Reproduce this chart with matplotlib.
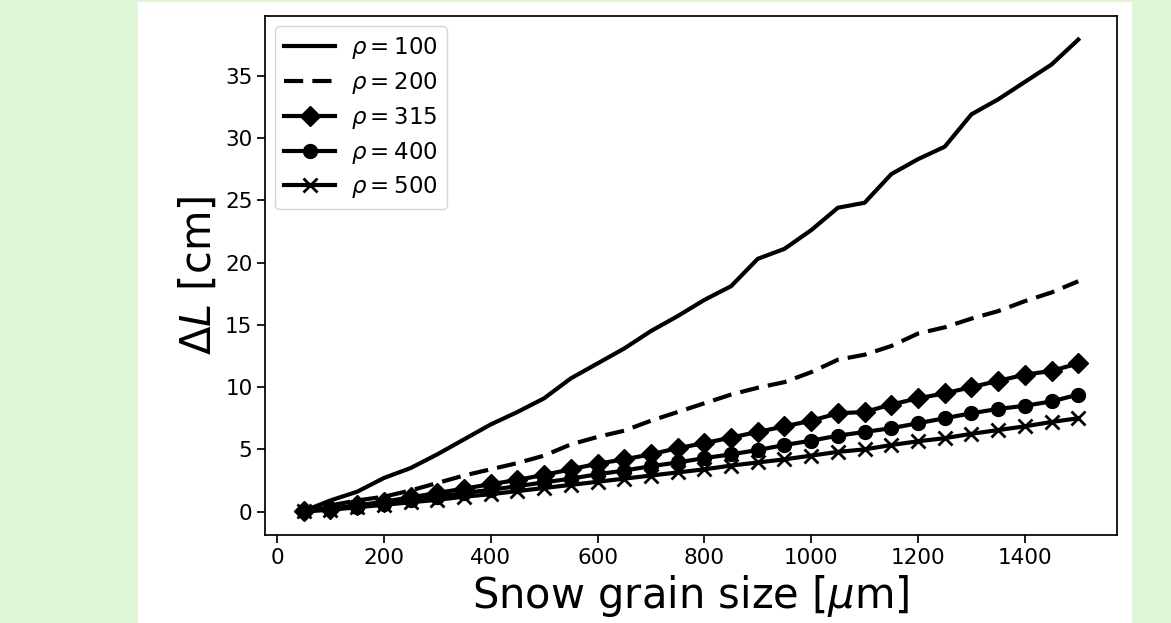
import matplotlib
matplotlib.use("Agg")
import matplotlib.pyplot as plt
from matplotlib.patches import Rectangle

# grain sizes [um]
grain = [50, 100, 150, 200, 250, 300, 350, 400, 450, 500,
         550, 600, 650, 700, 750, 800, 850, 900, 950, 1000,
         1050, 1100, 1150, 1200, 1250, 1300, 1350, 1400, 1450, 1500]

# delta L [cm] for each density
dl_100 = [0.05, 0.9, 1.6, 2.7, 3.5, 4.6, 5.8, 7.0, 8.0, 9.1,
          10.7, 11.9, 13.1, 14.5, 15.7, 17.0, 18.1, 20.3, 21.1, 22.6,
          24.4, 24.8, 27.1, 28.3, 29.3, 31.9, 33.1, 34.5, 35.9, 37.9]
dl_200 = [0.04, 0.5, 0.9, 1.2, 1.7, 2.3, 2.9, 3.4, 3.9, 4.5,
          5.4, 6.0, 6.5, 7.3, 8.0, 8.7, 9.4, 9.95, 10.4, 11.2,
          12.2, 12.6, 13.3, 14.3, 14.8, 15.5, 16.1, 16.9, 17.6, 18.5]
dl_315 = [0.05, 0.25, 0.5, 0.8, 1.15, 1.5, 1.85, 2.2, 2.55, 2.95,
          3.4, 3.85, 4.2, 4.6, 5.1, 5.5, 5.95, 6.4, 6.85, 7.3,
          7.9, 8.0, 8.6, 9.1, 9.5, 10.0, 10.5, 11.0, 11.3, 11.9]
dl_400 = [0.03, 0.2, 0.4, 0.65, 0.9, 1.2, 1.5, 1.75, 2.05, 2.35,
          2.65, 3.0, 3.3, 3.65, 3.95, 4.3, 4.6, 4.95, 5.35, 5.7,
          6.1, 6.4, 6.7, 7.1, 7.5, 7.9, 8.25, 8.5, 8.85, 9.4]
dl_500 = [0.02, 0.15, 0.35, 0.55, 0.75, 0.95, 1.2, 1.4, 1.65, 1.9,
          2.15, 2.4, 2.65, 2.9, 3.15, 3.4, 3.7, 3.95, 4.2, 4.5,
          4.8, 5.0, 5.35, 5.65, 5.9, 6.25, 6.55, 6.85, 7.2, 7.5]

labels = [r"$\rho = 100$", r"$\rho = 200$", r"$\rho = 315$",
          r"$\rho = 400$", r"$\rho = 500$"]

fig = plt.figure(figsize=(11.71, 6.23), dpi=100)
fig.patch.set_facecolor("#dff6d8")
# white page area behind the plot
page = Rectangle((138/1171, 0), (1132-138)/1171, 621/623,
                 transform=fig.transFigure, facecolor="white",
                 edgecolor="none", zorder=-5)
fig.add_artist(page)

ax = fig.add_axes([265/1171, 1-535/623, (1117-265)/1171, (535-16)/623])
ax.set_zorder(2)

lw = 3
ms = 10
ax.plot(grain, dl_100, "k-", lw=lw, label=labels[0])
ax.plot(grain, dl_200, color="k", ls=(0, (4.6, 2.2)), lw=lw, label=labels[1])
ax.plot(grain, dl_315, "k-", lw=lw, marker="D", ms=ms, label=labels[2])
ax.plot(grain, dl_400, "k-", lw=lw, marker="o", ms=ms, label=labels[3])
ax.plot(grain, dl_500, "k-", lw=lw, marker="x", ms=ms, mew=2, label=labels[4])

ax.set_xlabel(r"Snow grain size [$\mu$m]", fontsize=30)
ax.set_ylabel(r"$\Delta L$ [cm]", fontsize=30)
ax.tick_params(labelsize=15.5, length=5.5, width=1.25)
for s in ax.spines.values():
    s.set_linewidth(1.25)

ax.legend(loc="upper left", fontsize=16.5, handlelength=2.2,
          labelspacing=0.38, borderaxespad=0.45, handletextpad=0.7)

fig.savefig("out.png", dpi=100, facecolor=fig.get_facecolor())
